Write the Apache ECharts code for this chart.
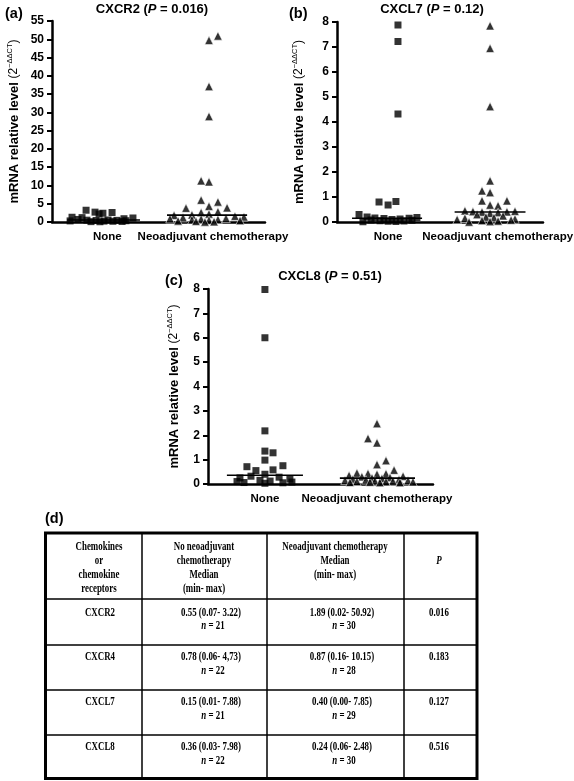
<!DOCTYPE html>
<html><head><meta charset="utf-8">
<script src="https://cdn.jsdelivr.net/npm/echarts@6/dist/echarts.min.js"></script>
<style>html,body{margin:0;padding:0;background:#fff}#c{width:574px;height:781px}</style>
</head><body><div id="c"></div>
<script>
// ---------- DATA ----------
const categories = ['None', 'Neoadjuvant chemotherapy'];
const panelLetters = ['(a)', '(b)', '(c)'];
const panelGenes = ['CXCR2', 'CXCL7', 'CXCL8'];
const panelP = ['0.016', '0.12', '0.51'];
const yMax = [55, 8, 8];
const yStep = [5, 1, 1];

// (a) CXCR2
const cxcr2None  = [3.22, 2.7, 2.6, 2.4, 2.2, 1.3, 1.2, 1.1, 0.9, 0.7, 0.55, 0.5, 0.45, 0.4, 0.35, 0.3, 0.25, 0.2, 0.15, 0.1, 0.07];
const cxcr2NoneX = [16.0, 20.2, 28.2, 23.9, 22.1, 9.4, 14.1, 38.0, 33.8, 12.2, 26.3, 16.4, 30.5, 20.7, 34.7, 8.5, 24.4, 28.6, 32.9, 18.3, 22.5];
const cxcr2Neo   = [50.92, 49.7, 37.1, 28.9, 11.3, 11.0, 6.0, 5.5, 4.3, 3.8, 3.9, 2.8, 2.6, 2.2, 1.95, 1.83, 1.6, 1.4, 1.2, 1.0, 0.9, 0.8, 0.7, 0.6, 0.5, 0.4, 0.3, 0.2, 0.1, 0.02];
const cxcr2NeoX  = [77.9, 73.7, 73.7, 73.7, 70.0, 73.7, 70.0, 77.9, 73.7, 62.9, 82.2, 77.9, 70.0, 73.7, 65.7, 57.3, 85.9, 90.1, 61.5, 81.7, 55.4, 70.0, 77.9, 65.7, 73.7, 88.3, 59.2, 67.6, 76.1, 71.8];
const cxcr2Median = [0.55, 1.89];

// (b) CXCL7
const cxcl7None  = [7.88, 7.22, 4.32, 0.82, 0.80, 0.68, 0.3, 0.2, 0.18, 0.16, 0.15, 0.14, 0.12, 0.1, 0.08, 0.07, 0.05, 0.04, 0.03, 0.02, 0.01];
const cxcl7NoneX = [29.6, 29.6, 29.6, 28.6, 20.4, 24.8, 10.7, 14.6, 38.8, 18.4, 35.0, 22.8, 30.6, 26.7, 16.5, 36.4, 20.9, 32.5, 24.8, 28.6, 12.6];
const cxcl7Neo   = [7.85, 6.95, 4.62, 1.65, 1.25, 1.18, 0.85, 0.85, 0.68, 0.65, 0.45, 0.43, 0.42, 0.41, 0.40, 0.38, 0.35, 0.3, 0.25, 0.2, 0.18, 0.15, 0.12, 0.1, 0.08, 0.06, 0.04, 0.02, 0.00];
const cxcl7NeoX  = [74.3, 74.3, 74.3, 74.3, 70.4, 74.3, 70.4, 82.5, 74.3, 78.2, 62.1, 86.4, 66.0, 82.5, 70.4, 78.2, 74.3, 68.0, 80.6, 72.3, 76.2, 62.1, 86.4, 58.3, 84.5, 70.4, 78.2, 74.3, 64.1];
const cxcl7Median = [0.15, 0.40];

// (c) CXCL8
const cxcl8None  = [7.98, 6.0, 2.18, 1.35, 1.28, 0.98, 0.75, 0.71, 0.58, 0.55, 0.40, 0.32, 0.28, 0.25, 0.2, 0.15, 0.12, 0.1, 0.08, 0.06, 0.05, 0.03];
const cxcl8NoneX = [25.3, 25.3, 25.3, 25.3, 28.9, 25.3, 33.3, 17.3, 28.9, 21.3, 25.3, 19.1, 31.6, 14.2, 36.4, 23.1, 27.6, 12.9, 37.3, 16.0, 33.3, 25.3];
const cxcl8Neo   = [2.48, 1.87, 1.69, 0.96, 0.80, 0.57, 0.45, 0.43, 0.42, 0.40, 0.35, 0.32, 0.30, 0.27, 0.25, 0.23, 0.2, 0.18, 0.17, 0.15, 0.14, 0.13, 0.12, 0.11, 0.1, 0.09, 0.08, 0.07, 0.06, 0.06];
const cxcl8NeoX  = [75.1, 71.1, 75.1, 79.1, 75.1, 82.7, 66.2, 71.1, 79.1, 75.1, 62.7, 86.7, 68.4, 80.9, 72.9, 77.3, 64.4, 84.9, 70.2, 60.9, 88.9, 74.2, 82.2, 66.2, 79.1, 91.1, 72.0, 63.1, 76.4, 85.3];
const cxcl8Median = [0.36, 0.24];

// (d) table
const tableHeader = [
  ['Chemokines', 'or', 'chemokine', 'receptors'],
  ['No neoadjuvant', 'chemotherapy', 'Median', '(min- max)'],
  ['Neoadjuvant chemotherapy', 'Median', '(min- max)'],
  ['P']
];
const tableGenes = ['CXCR2', 'CXCR4', 'CXCL7', 'CXCL8'];
const tableNone  = ['0.55 (0.07- 3.22)', '0.78 (0.06- 4,73)', '0.15 (0.01- 7.88)', '0.36 (0.03- 7.98)'];
const tableNoneN = [21, 22, 21, 22];
const tableNeo   = ['1.89 (0.02- 50.92)', '0.87 (0.16- 10.15)', '0.40 (0.00- 7.85)', '0.24 (0.06- 2.48)'];
const tableNeoN  = [30, 28, 29, 30];
const tableP     = ['0.016', '0.183', '0.127', '0.516'];

// ---------- LAYOUT ----------
const SANS = 'Liberation Sans';
const SERIF = 'Liberation Serif';
const panels = [
  { grid: {left: 52, top: 21, right: 309, bottom: 559}, nameGap: 30, labelX: [26, 75.6], centers: [24.2, 72.8], hw: [17.1, 18.8],
    none: cxcr2None, noneX: cxcr2NoneX, neo: cxcr2Neo, neoX: cxcr2NeoX, med: cxcr2Median,
    letter: [5, 14], title: [152, 9] },
  { grid: {left: 337, top: 22, right: 31, bottom: 559}, nameGap: 30, labelX: [24.8, 78], centers: [24.3, 74.3], hw: [17, 17.2],
    none: cxcl7None, noneX: cxcl7NoneX, neo: cxcl7Neo, neoX: cxcl7NeoX, med: cxcl7Median,
    letter: [289, 14], title: [432, 9] },
  { grid: {left: 208, top: 289, right: 141, bottom: 297}, nameGap: 26, labelX: [25.3, 75.1], centers: [25.3, 75.3], hw: [16.9, 16.7],
    none: cxcl8None, noneX: cxcl8NoneX, neo: cxcl8Neo, neoX: cxcl8NeoX, med: cxcl8Median,
    letter: [165, 281], title: [330, 276] }
];

const grids = [], xAxes = [], yAxes = [], series = [], graphics = [];
panels.forEach((p, i) => {
  grids.push(Object.assign({containLabel: false, outerBoundsMode: 'none'}, p.grid));
  xAxes.push({
    gridIndex: i, type: 'value', min: 0, max: 100,
    axisLine: {onZero: false, lineStyle: {color: '#000', width: 2.5}},
    axisTick: {show: false}, splitLine: {show: false},
    axisLabel: {customValues: p.labelX, formatter: v => (v < 50 ? categories[0] : categories[1]),
      color: '#000', fontFamily: SANS, fontWeight: 'bold', fontSize: 11.5, margin: 9}
  });
  yAxes.push({
    gridIndex: i, type: 'value', min: 0, max: yMax[i], interval: yStep[i],
    axisLine: {show: true, lineStyle: {color: '#000', width: 2.5}},
    axisTick: {show: true, length: 5, lineStyle: {color: '#000', width: 2}},
    splitLine: {show: false},
    axisLabel: {color: '#000', fontFamily: SANS, fontWeight: 'bold', fontSize: 12, margin: 8},
    name: '{b|mRNA relative level }{n|(2}{s|−ΔΔCT}{n|)}',
    nameLocation: 'middle', nameRotate: 90, nameGap: p.nameGap,
    nameTextStyle: {rich: {
      b: {fontFamily: SANS, fontWeight: 'bold', fontSize: 13, color: '#000', lineHeight: 16},
      n: {fontFamily: SANS, fontSize: 12, color: '#000', lineHeight: 16},
      s: {fontFamily: SANS, fontSize: 7.5, color: '#000', lineHeight: 16, verticalAlign: 'top'}
    }}
  });
  series.push({
    type: 'scatter', xAxisIndex: i, yAxisIndex: i, symbol: 'rect', symbolSize: 7,
    itemStyle: {color: '#000'}, data: p.none.map((v, k) => [p.noneX[k], v]), z: 3
  });
  series.push({
    type: 'scatter', xAxisIndex: i, yAxisIndex: i, symbol: 'triangle', symbolSize: 8.5,
    itemStyle: {color: '#000', borderColor: '#fff', borderWidth: 0.7}, data: p.neo.map((v, k) => [p.neoX[k], v]), z: 3
  });
  [0, 1].forEach(g => {
    series.push({
      type: 'line', xAxisIndex: i, yAxisIndex: i, symbol: 'none', silent: true,
      lineStyle: {color: '#000', width: 1.6}, z: 4,
      data: [[p.centers[g] - p.hw[g], p.med[g]], [p.centers[g] + p.hw[g], p.med[g]]]
    });
  });
  graphics.push({type: 'text', x: p.letter[0], y: p.letter[1], style: {
    text: panelLetters[i], fontFamily: SANS, fontWeight: 'bold', fontSize: 14.5, fill: '#000',
    textAlign: 'left', textVerticalAlign: 'middle'}});
  graphics.push({type: 'text', x: p.title[0], y: p.title[1], style: {
    text: '{b|' + panelGenes[i] + ' (}{i|P}{b| = ' + panelP[i] + ')}',
    rich: {b: {fontFamily: SANS, fontWeight: 'bold', fontSize: 13, fill: '#000'},
           i: {fontFamily: SANS, fontWeight: 'bold', fontStyle: 'italic', fontSize: 13, fill: '#000'}},
    textAlign: 'center', textVerticalAlign: 'middle'}});
});

// ---------- TABLE (d) ----------
graphics.push({type: 'text', x: 45, y: 519, style: {text: '(d)', fontFamily: SANS, fontWeight: 'bold', fontSize: 14.5, fill: '#000', textAlign: 'left', textVerticalAlign: 'middle'}});
const T = {l: 45.5, r: 477, t: 533, b: 778.5};
const colX = [142, 267, 404];
const rowY = [599, 645, 690, 735];
graphics.push({type: 'rect', shape: {x: T.l, y: T.t, width: T.r - T.l, height: T.b - T.t}, style: {fill: 'none', stroke: '#000', lineWidth: 3}});
colX.forEach(x => graphics.push({type: 'line', shape: {x1: x, y1: T.t, x2: x, y2: T.b}, style: {stroke: '#000', lineWidth: 1.5}}));
rowY.forEach(y => graphics.push({type: 'line', shape: {x1: T.l, y1: y, x2: T.r, y2: y}, style: {stroke: '#000', lineWidth: 1.5}}));

const SX = 0.74;
function cellText(x, y, text, italic) {
  graphics.push({type: 'text', x: x, y: y, scaleX: SX, style: {
    text: text, fontFamily: SERIF, fontWeight: 'bold', fontStyle: italic ? 'italic' : 'normal', fontSize: 12, fill: '#000',
    rich: {i: {fontFamily: SERIF, fontWeight: 'bold', fontStyle: 'italic', fontSize: 12, fill: '#000'}},
    textAlign: 'center', textVerticalAlign: 'middle'}});
}
const headCX = [99, 204, 335, 439];
const headY = [[547, 561, 575, 589], [547, 561, 575, 589], [547, 561, 575], [561]];
tableHeader.forEach((lines, c) => lines.forEach((s, k) => cellText(headCX[c], headY[c][k], s, c === 3)));
rowY.forEach((top, r) => {
  const y1 = top + (r === 0 ? 13.5 : 11.5), y2 = top + (r === 0 ? 27 : 26);
  cellText(100, y1, tableGenes[r]);
  cellText(211, y1, tableNone[r]);
  cellText(213, y2, '{i|n} = ' + tableNoneN[r]);
  cellText(342, y1, tableNeo[r]);
  cellText(344, y2, '{i|n} = ' + tableNeoN[r]);
  cellText(439, y1, tableP[r]);
});

const chart = echarts.init(document.getElementById('c'), null, {renderer: 'canvas'});
chart.setOption({
  animation: false, backgroundColor: '#fff',
  grid: grids, xAxis: xAxes, yAxis: yAxes, series: series, graphic: graphics
});
</script></body></html>
